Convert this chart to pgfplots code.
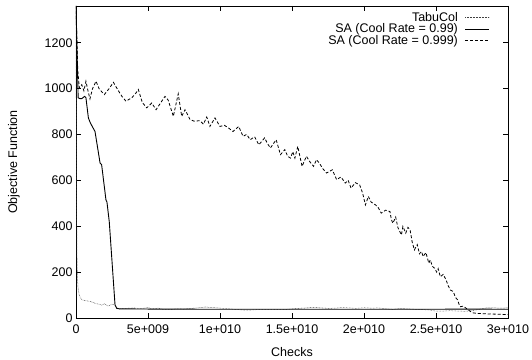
\documentclass[border=0pt]{standalone}
\usepackage{pgfplots}
\pgfplotsset{compat=1.18}
\usepackage{fontspec}
\setmainfont{Liberation Sans}
\newcommand{\fs}{\fontsize{12.5}{14}\selectfont}

\begin{document}
\begin{tikzpicture}[font=\fs]
\begin{axis}[
    name=ax,
    scale only axis, width=432pt, height=312pt,
    xmin=0, xmax=30e9, ymin=0, ymax=1360,
    xtick={0,5e9,10e9,15e9,20e9,25e9,30e9},
    xticklabels={0,5e+009,1e+010,1.5e+010,2e+010,2.5e+010,3e+010},
    scaled x ticks=false,
    ytick={0,200,...,1200},
    yticklabel style={/pgf/number format/1000 sep={}},
    tick align=inside, tick pos=both, major tick length=5pt,
    axis line style={line width=0.9pt},
    every tick/.style={black, line width=0.6pt},
    /pgf/number format/assume math mode=true,
    ticklabel style={font=\fs},
    xticklabel style={yshift=-3pt},
    xlabel={Checks}, ylabel={Objective Function},
    label style={font=\fs},
    xlabel style={at={([yshift=-34pt]axis description cs:0.5,0)}, anchor=center},
    ylabel style={at={([xshift=-62pt]axis description cs:0,0.5)}, anchor=center},
    legend style={at={([xshift=-15pt,yshift=-2pt]rel axis cs:1,1)}, anchor=north east,
        draw=none, fill=none, font=\fs, row sep=-3pt,
        /tikz/every odd column/.append style={column sep=5pt}},
    legend cell align=right, legend plot pos=right,
    legend image code/.code={\draw[#1] (0pt,0pt) -- (24pt,0pt);},
]
% TabuCol
\addplot[black!75, line width=0.5pt, dash pattern=on 0.6pt off 0.9pt] coordinates {
(0,1360) (0.02e9,900) (0.04e9,500) (0.07e9,260) (0.1e9,170) (0.15e9,125)
(0.25e9,95) (0.4e9,80) (0.6e9,76) (0.8e9,74) (1.0e9,72) (1.2e9,68)
(1.4e9,62) (1.6e9,60) (1.8e9,56) (1.95e9,62) (2.1e9,58) (2.2e9,52)
(2.36e9,55) (2.5e9,60) (2.7e9,58) (2.85e9,45) (3.0e9,40) (3.5e9,42)
(4.0e9,44) (4.5e9,41) (5.0e9,45) (5.3e9,40) (5.7e9,43) (6.0e9,38)
(6.5e9,36) (7e9,40) (7.5e9,39) (8e9,42) (8.5e9,44) (9e9,48) (9.3e9,46)
(9.6e9,45) (10e9,43) (10.5e9,41) (11e9,38) (11.5e9,35) (12e9,34)
(12.5e9,36) (13e9,37) (13.5e9,36) (14e9,38) (14.5e9,37) (15e9,40)
(15.5e9,42) (16e9,44) (16.5e9,46) (17e9,44) (17.5e9,42) (18e9,43)
(18.5e9,46) (19e9,44) (19.5e9,42) (20e9,45) (20.5e9,43) (21e9,44)
(21.5e9,40) (22e9,38) (22.5e9,41) (23e9,40) (23.5e9,38) (24e9,37)
(24.5e9,35) (25e9,30) (25.5e9,30) (26e9,32) (26.5e9,30) (27e9,29)
(27.5e9,32) (28e9,38) (28.5e9,44) (29e9,44) (29.5e9,43) (30e9,44)
};
\addlegendentry{TabuCol}
% SA 0.99
\addplot[black, line width=0.9pt] coordinates {
(0,1360) (0.15e9,960) (0.28e9,956) (0.39e9,956) (0.6e9,966) (0.69e9,960)
(0.86e9,872) (1.0e9,850) (1.32e9,813) (1.67e9,676) (1.78e9,668)
(2.08e9,515) (2.15e9,505) (2.31e9,420) (2.71e9,57) (2.83e9,42)
(3.0e9,40) (5e9,39) (10e9,38) (15e9,38) (20e9,38) (25e9,38)
(26.8e9,39) (30e9,38)
};
\addlegendentry{SA (Cool Rate = 0.99)}
% SA 0.999
\addplot[black, line width=0.8pt, dash pattern=on 3pt off 2pt] coordinates {
(0,1360) (0.12e9,1080) (0.23e9,1003) (0.4e9,1017) (0.55e9,990)
(0.69e9,1032) (0.85e9,985) (0.97e9,955) (1.15e9,1000) (1.39e9,1032)
(1.6e9,1000) (1.8e9,985) (1.97e9,974) (2.3e9,1000) (2.6e9,1027)
(2.9e9,995) (3.2e9,965) (3.47e9,945) (3.87e9,960) (4.1e9,975)
(4.33e9,996) (4.6e9,940) (4.91e9,916) (5.26e9,937) (5.56e9,908)
(5.9e9,940) (6.18e9,966) (6.4e9,950) (6.76e9,879) (7.1e9,977)
(7.34e9,879) (7.57e9,908) (7.92e9,865) (8.2e9,858) (8.6e9,860)
(8.85e9,845) (9.08e9,876) (9.3e9,835) (9.65e9,872) (10.0e9,835)
(10.3e9,840) (10.6e9,828) (10.9e9,813) (11.3e9,835) (11.6e9,792)
(11.85e9,800) (12.1e9,777) (12.4e9,790) (12.7e9,755) (13.1e9,785)
(13.3e9,760) (13.5e9,741) (13.9e9,777) (14.2e9,712) (14.5e9,734)
(14.7e9,705) (14.9e9,697) (15.05e9,725) (15.2e9,697) (15.4e9,748)
(15.7e9,661) (16.0e9,705) (16.25e9,680) (16.5e9,661) (16.7e9,690)
(16.9e9,675) (17.15e9,650) (17.4e9,632) (17.8e9,646) (18.1e9,603)
(18.4e9,615) (18.7e9,588) (18.9e9,600) (19.1e9,566) (19.4e9,590)
(19.7e9,580) (19.9e9,545) (20.1e9,493) (20.3e9,530) (20.5e9,505)
(20.8e9,493) (21.0e9,480) (21.2e9,457) (21.5e9,470) (21.8e9,464)
(21.9e9,430) (22.0e9,413) (22.2e9,440) (22.35e9,395) (22.6e9,362)
(22.7e9,399) (22.9e9,370) (23.05e9,395) (23.2e9,384) (23.35e9,330)
(23.5e9,297) (23.7e9,320) (23.85e9,280) (24.0e9,290) (24.1e9,268)
(24.3e9,285) (24.5e9,239) (24.6e9,253) (24.75e9,225) (24.9e9,217)
(25.05e9,200) (25.15e9,215) (25.3e9,180) (25.5e9,190) (25.7e9,166)
(25.85e9,140) (26.0e9,122) (26.2e9,115) (26.35e9,90) (26.5e9,79)
(26.6e9,60) (26.7e9,49) (26.9e9,52) (27.1e9,42) (27.25e9,35)
(27.4e9,28) (27.6e9,22) (27.9e9,20) (28.5e9,18) (29e9,17)
(29.5e9,16) (30e9,15)
};
\addlegendentry{SA (Cool Rate = 0.999)}
\end{axis}
\pgfresetboundingbox
\path (ax.south west) ++(-76pt,-42pt) rectangle ([xshift=24pt,yshift=6pt]ax.north east);
\end{tikzpicture}
\end{document}
